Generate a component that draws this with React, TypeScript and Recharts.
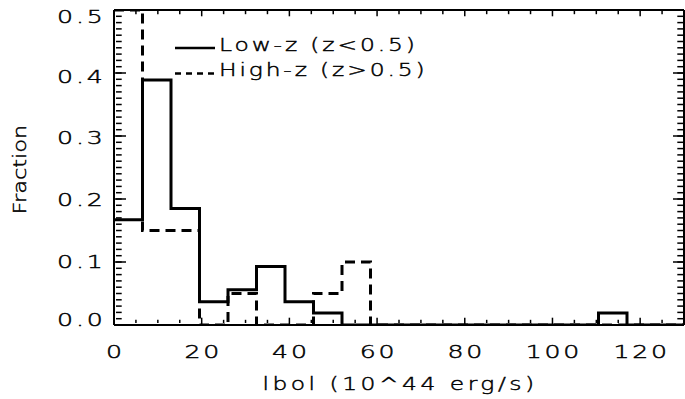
import React from 'react';
import { ComposedChart, Line, XAxis, YAxis, Legend } from 'recharts';

// Histogram bin edges (Lbol, 10^44 erg/s)
const binEdges = [0, 6.5, 13, 19.5, 26, 32.5, 39, 45.5, 52, 58.5, 65, 71.5, 78, 84.5, 91, 97.5, 104, 110.5, 117, 123.5, 130];
// Fraction per bin
const lowZ = [0.167, 0.389, 0.185, 0.037, 0.056, 0.093, 0.037, 0.019, 0, 0, 0, 0, 0, 0, 0, 0, 0, 0.019, 0, 0];
const highZ = [0.5, 0.15, 0.15, 0, 0.05, 0, 0, 0.05, 0.1, 0, 0, 0, 0, 0, 0, 0, 0, 0, 0, 0];
const seriesNames = ['Low-z (z<0.5)', 'High-z (z>0.5)'];

const xMajorTicks = [0, 20, 40, 60, 80, 100, 120];
const xMinorTicks = [5, 10, 15, 25, 30, 35, 45, 50, 55, 65, 70, 75, 85, 90, 95, 105, 110, 115, 125];
const yMajorTicks = [0, 0.1, 0.2, 0.3, 0.4, 0.5];
const yTickLabels = ['0.0', '0.1', '0.2', '0.3', '0.4', '0.5'];
const yMinorTicks = Array.from({ length: 49 }, (_, i) => Number(((i + 1) / 100).toFixed(2)));
const xTitle = 'lbol (10^44 erg/s)';
const yTitle = 'Fraction';

const rows = binEdges.map((x, i) => ({
  x,
  low: lowZ[Math.min(i, lowZ.length - 1)],
  high: highZ[Math.min(i, highZ.length - 1)],
}));

const FONT = '"DejaVu Sans ExtraLight", "DejaVu Sans", Verdana, sans-serif';
const BLACK = '#000';
const textStyle = { fontFamily: FONT, fontWeight: 200, fontSize: 18, fill: BLACK, stroke: BLACK, strokeWidth: 0.45 };
const yLabelNudge = [-5, 0, 1, 2, 4, 7];

const XTick = (props: any) => {
  const { x, y, payload } = props;
  return (
    <g transform={`translate(${x + 1.5},${y})`}>
      <text transform="scale(1.4,1)" x={0} y={0} textAnchor="middle" dominantBaseline="central" letterSpacing={2} {...textStyle}>
        {payload.value}
      </text>
    </g>
  );
};

const YTick = (props: any) => {
  const { x, y, index } = props;
  return (
    <g transform={`translate(${x},${y + (yLabelNudge[index] || 0)})`}>
      <text transform="scale(1.4,1)" x={0} y={0} textAnchor="end" dominantBaseline="central" letterSpacing={2} {...textStyle}>
        {yTickLabels[index]}
      </text>
    </g>
  );
};

const TickMark = (props: any) => {
  const { x, y, mx = 0, my = 0 } = props;
  return <line x1={x} y1={y} x2={x + mx} y2={y + my} stroke={BLACK} strokeWidth={1.5} />;
};

const XTitle = (props: any) => {
  const vb = props.viewBox || {};
  return (
    <g transform={`translate(${vb.x + vb.width / 2 + 1},${vb.y + vb.height + 64.5})`}>
      <text transform="scale(1.3,1)" x={0} y={0} textAnchor="middle" letterSpacing={2.7} {...textStyle}>
        {xTitle}
      </text>
    </g>
  );
};

const YTitle = (props: any) => {
  const vb = props.viewBox || {};
  const cx = vb.x - 88;
  const cy = vb.y + vb.height / 2 + 2;
  return (
    <text transform={`translate(${cx},${cy}) rotate(-90) scale(1.25,1)`} textAnchor="middle" {...textStyle}>
      {yTitle}
    </text>
  );
};

const LegendContent = () => (
  <svg width={300} height={62} style={{ display: 'block', overflow: 'visible' }}>
    {seriesNames.map((name, i) => (
      <g key={name}>
        <line x1={5} x2={45} y1={18 + 25.5 * i} y2={18 + 25.5 * i} stroke={BLACK} strokeWidth={2.5} strokeDasharray={i === 1 ? '6 5' : undefined} />
        <text transform={`translate(49,${21 + 25 * i}) scale(1.3,1)`} letterSpacing={2.2} {...textStyle}>
          {name}
        </text>
      </g>
    ))}
  </svg>
);

const axisLine = { stroke: BLACK, strokeWidth: 2 };

const commonX = { dataKey: 'x', type: 'number' as const, domain: [0, 130], allowDataOverflow: true, interval: 0, mirror: true, height: 1, stroke: BLACK, tickLine: false };
const commonY = { type: 'number' as const, domain: [0, 0.5], allowDataOverflow: true, interval: 0, mirror: true, width: 1, stroke: BLACK, tickLine: false };

export default function App() {
  return (
    <div style={{ position: 'absolute', left: 0, top: 0, width: 685, height: 399, background: '#fff' }}>
      <ComposedChart width={685} height={399} data={rows} margin={{ top: 10, right: 1, bottom: 74, left: 114 }}>
        {/* bottom axis: line + labels, major and minor tick marks (inward) */}
        <XAxis xAxisId="b" {...commonX} orientation="bottom" ticks={xMajorTicks} axisLine={axisLine} tickSize={6} tickMargin={-33}
          tick={<XTick />} label={{ content: <XTitle /> }} />
        <XAxis xAxisId="bj" {...commonX} orientation="bottom" ticks={xMajorTicks} axisLine={false} tickSize={6.3} tickMargin={0}
          tick={<TickMark my={6.3} />} />
        <XAxis xAxisId="bm" {...commonX} orientation="bottom" ticks={xMinorTicks} axisLine={false} tickSize={3.2} tickMargin={0}
          tick={<TickMark my={3.2} />} />
        {/* top axis */}
        <XAxis xAxisId="t" {...commonX} orientation="top" ticks={xMajorTicks} axisLine={axisLine} tickSize={6.3} tickMargin={0}
          tick={<TickMark my={-6.3} />} />
        <XAxis xAxisId="tm" {...commonX} orientation="top" ticks={xMinorTicks} axisLine={false} tickSize={3.2} tickMargin={0}
          tick={<TickMark my={-3.2} />} />

        {/* left axis */}
        <YAxis yAxisId="l" {...commonY} orientation="left" ticks={yMajorTicks} axisLine={axisLine} tickSize={11} tickMargin={-19.5}
          tick={<YTick />} label={{ content: <YTitle /> }} />
        <YAxis yAxisId="lj" {...commonY} orientation="left" ticks={yMajorTicks} axisLine={false} tickSize={11} tickMargin={0}
          tick={<TickMark mx={-11} />} />
        <YAxis yAxisId="lm" {...commonY} orientation="left" ticks={yMinorTicks} axisLine={false} tickSize={5.7} tickMargin={0}
          tick={<TickMark mx={-5.7} />} />
        {/* right axis */}
        <YAxis yAxisId="r" {...commonY} orientation="right" ticks={yMajorTicks} axisLine={axisLine} tickSize={11} tickMargin={0}
          tick={<TickMark mx={11} />} />
        <YAxis yAxisId="rm" {...commonY} orientation="right" ticks={yMinorTicks} axisLine={false} tickSize={5.7} tickMargin={0}
          tick={<TickMark mx={5.7} />} />

        <Line xAxisId="b" yAxisId="l" dataKey="high" name={seriesNames[1]} type="stepAfter" stroke={BLACK} strokeWidth={3}
          strokeDasharray="10 6" dot={false} activeDot={false} isAnimationActive={false} />
        <Line xAxisId="b" yAxisId="l" dataKey="low" name={seriesNames[0]} type="stepAfter" stroke={BLACK} strokeWidth={3}
          dot={false} activeDot={false} isAnimationActive={false} />

        <Legend layout="horizontal" verticalAlign="middle" align="center" content={<LegendContent />}
          wrapperStyle={{ position: 'absolute', left: 170, top: 30, width: 300, height: 62 }} />
      </ComposedChart>
    </div>
  );
}
